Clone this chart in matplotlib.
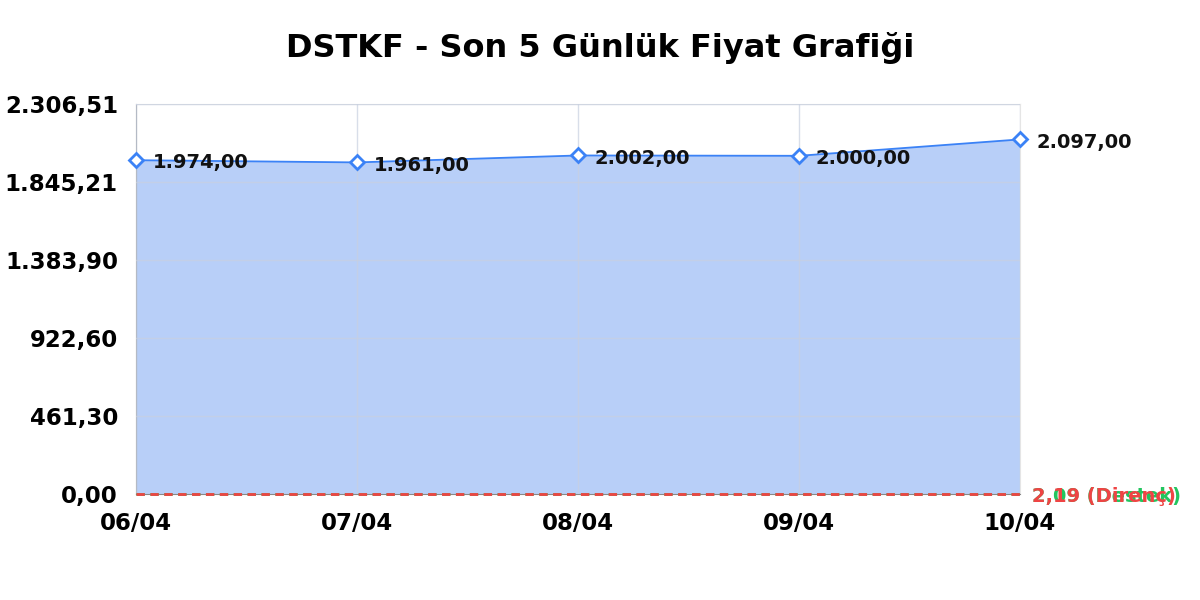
import matplotlib
matplotlib.use("Agg")
import matplotlib.pyplot as plt
import numpy as np

plt.rcParams["font.family"] = ["DejaVu Sans"]

# Data
dates = ["06/04", "07/04", "08/04", "09/04", "10/04"]
prices = [1974.00, 1961.00, 2002.00, 2000.00, 2097.00]
support = 2.09   # Destek
resistance = 2.19  # Direnç
y_max = 2306.51
ytick_labels = ["0,00", "461,30", "922,60", "1.383,90", "1.845,21", "2.306,51"]


def tr_fmt(v):
    # Turkish number format: 1.234,56
    s = f"{v:,.2f}"
    return s.replace(",", "X").replace(".", ",").replace("X", ".")


fig = plt.figure(figsize=(12, 6), dpi=100)
ax = fig.add_axes([0.1133, 0.1767, 0.7367, 0.65])

x = np.arange(len(dates))
line_color = "#3b82f6"
ax.fill_between(x, prices, 0, color="#b8cff8", zorder=1)
ax.plot(x, prices, color=line_color, lw=1.3, marker="D", markersize=7,
        markerfacecolor="white", markeredgecolor=line_color, markeredgewidth=2,
        zorder=4, clip_on=False)

for xi, p in zip(x, prices):
    ax.annotate(tr_fmt(p), (xi, p), xytext=(12, -2), textcoords="offset points",
                ha="left", va="center", fontsize=14, fontweight="bold",
                color="#111111", zorder=5)

# support / resistance lines
ax.axhline(support, color="#22c55e", ls=(0, (3, 2)), lw=2, zorder=6, clip_on=False)
ax.axhline(resistance, color="#ef4444", ls=(0, (3, 2)), lw=2, zorder=7, clip_on=False)
ax.annotate(f"{support:.2f}".replace(".", ",") + " (Destek)", (x[-1], support),
            xytext=(9, -2), textcoords="offset points", ha="left", va="center",
            fontsize=14, fontweight="bold", color="#22c55e", annotation_clip=False)
ax.annotate(f"{resistance:.2f}".replace(".", ",") + " (Direnç)", (x[-1], resistance),
            xytext=(9, -2), textcoords="offset points", ha="left", va="center",
            fontsize=14, fontweight="bold", color="#ef4444", annotation_clip=False)

ax.set_yticks(np.linspace(0, y_max, 6))
ax.set_yticklabels(ytick_labels)
ax.set_ylim(0, y_max)
ax.set_xlim(x[0], x[-1])
ax.set_xticks(x)
ax.set_xticklabels(dates)

ax.set_axisbelow(False)
ax.grid(True, color="#c8d0e0", lw=1, alpha=0.7)
ax.tick_params(length=0, labelsize=16.5)
ax.tick_params(axis="y", pad=13)
ax.tick_params(axis="x", pad=13)
for lbl in ax.get_xticklabels() + ax.get_yticklabels():
    lbl.set_fontweight("bold")

ax.spines["top"].set_color("#e5e5e5")
ax.spines["right"].set_color("#e5e5e5")
ax.spines["left"].set_color("#888888")
ax.spines["bottom"].set_color("#888888")

fig.suptitle("DSTKF - Son 5 Günlük Fiyat Grafiği", fontsize=23, fontweight="bold",
             y=0.92, va="center")

fig.savefig("out.png", dpi=100)
